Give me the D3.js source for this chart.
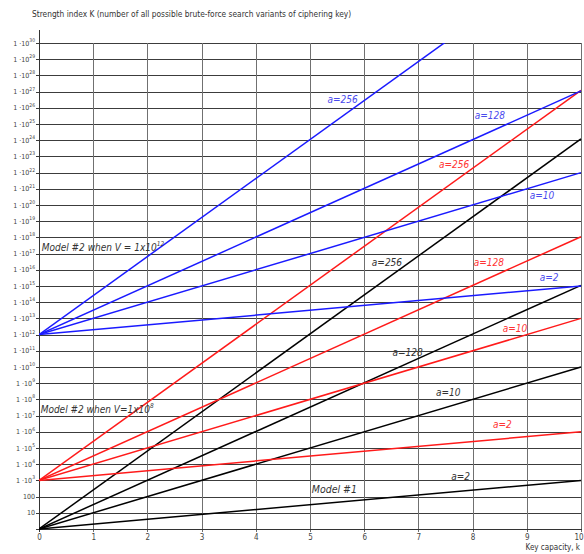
<!DOCTYPE html>
<html><head><meta charset="utf-8">
<script src="https://cdn.jsdelivr.net/npm/d3@7/dist/d3.min.js"></script>
<style>
body{margin:0;background:#fff;}
svg{display:block;}
text{font-family:"Liberation Sans Narrow","DejaVu Sans Condensed","Arial Narrow",sans-serif;}
</style></head><body>
<svg id="chart" width="584" height="554"></svg>
<script>
// ---------------- data ----------------
const keyCapacity = [0, 10];                       // k at both ends of every line
const xTicks = [0, 1, 2, 3, 4, 5, 6, 7, 8, 9, 10];
const yTickExponents = [0,1,2,3,4,5,6,7,8,9,10,11,12,13,14,15,16,17,18,19,20,21,22,23,24,25,26,27,28,29,30];
const seriesLabels = ["a=2", "a=10", "a=128", "a=256"];

// Model #1 (black): K at k=0 and k=10
const model1Start = [1, 1, 1, 1];
const model1End   = [1.0e3, 1.0e10, 1.1e15, 1.2e24];
// Model #2 when V=1x10^8 (red)
const model2aStart = [1e3, 1e3, 1e3, 1e3];
const model2aEnd   = [1.0e6, 1.0e13, 1.1e18, 1.2e27];
// Model #2 when V=1x10^12 (blue)
const model2bStart = [1e12, 1e12, 1e12, 1e12];
const model2bEnd   = [1.0e15, 1.0e22, 1.1e27, 1.2e36];

// label anchors in data units [k, log10 K]
const model1LabelAt  = [[7.78, 3.0], [7.55, 8.2], [6.8, 10.7], [6.42, 16.25]];
const model2aLabelAt = [[8.55, 6.25], [8.78, 12.15], [8.3, 16.25], [7.66, 22.3]];
const model2bLabelAt = [[9.41, 15.3], [9.28, 20.4], [8.32, 25.3], [5.6, 26.3]];

// ---------------- chart ----------------
const svg = d3.select("#chart");
const x = d3.scaleLinear().domain([0, 10]).range([39, 581]);
const y = d3.scaleLog().domain([1, 1e30]).range([529, 43]);

// horizontal grid
svg.append("g").selectAll("line").data(yTickExponents).join("line")
  .attr("x1", 36).attr("x2", x(10) + 1)
  .attr("y1", d => Math.round(y(Math.pow(10, d))) + 0.5)
  .attr("y2", d => Math.round(y(Math.pow(10, d))) + 0.5)
  .attr("stroke", "#3c3c3c").attr("stroke-width", 1);

// vertical grid
svg.append("g").selectAll("line").data(xTicks.filter(d => d > 0)).join("line")
  .attr("x1", d => Math.round(x(d)) + 0.5).attr("x2", d => Math.round(x(d)) + 0.5)
  .attr("y1", y(1e30)).attr("y2", y(1) + 3)
  .attr("stroke", "#707070").attr("stroke-width", 1);

// axes lines
svg.append("line").attr("x1", x(0) + 0.5).attr("x2", x(0) + 0.5)
  .attr("y1", 30).attr("y2", y(1) + 3).attr("stroke", "#333").attr("stroke-width", 1);
svg.append("line").attr("x1", x(0)).attr("x2", x(10) + 1)
  .attr("y1", Math.round(y(1)) + 0.5).attr("y2", Math.round(y(1)) + 0.5)
  .attr("stroke", "#333").attr("stroke-width", 1);

// y tick labels
const yl = svg.append("g").attr("fill", "#444").attr("font-size", 7);
yTickExponents.forEach(e => {
  if (e === 0) return;
  const t = yl.append("text").attr("x", 35).attr("y", y(Math.pow(10, e)) + 2.5)
    .attr("text-anchor", "end");
  if (e === 1) t.text("10");
  else if (e === 2) t.text("100");
  else {
    t.append("tspan").text("1 \u00B710");
    t.append("tspan").attr("font-size", 5).attr("dy", -3.5).text(String(e));
  }
});

// x tick labels
svg.append("g").selectAll("text").data(xTicks).join("text")
  .attr("x", d => d === 10 ? x(d) - 2 : x(d) + 0.5).attr("y", 540).attr("text-anchor", "middle")
  .attr("font-size", 8).attr("fill", "#444").text(d => d);

// titles
svg.append("text").attr("x", 32).attr("y", 17).attr("font-size", 8.3).attr("fill", "#333")
  .text("Strength index K (number of all possible brute-force search variants of ciphering key)");
svg.append("text").attr("x", 580).attr("y", 550).attr("text-anchor", "end")
  .attr("font-size", 8).attr("fill", "#333").text("Key capacity, k");

// lines
svg.append("defs").append("clipPath").attr("id", "plot")
  .append("rect").attr("x", x(0)).attr("y", y(1e30)).attr("width", x(10) - x(0) + 2).attr("height", y(1) - y(1e30) + 1);

const line = d3.line().x(d => x(d[0])).y(d => y(d[1]));
function drawModel(starts, ends, color) {
  const pts = starts.map((s, i) => [[keyCapacity[0], s], [keyCapacity[1], ends[i]]]);
  svg.append("g").attr("clip-path", "url(#plot)").selectAll("path").data(pts).join("path")
    .attr("d", line).attr("fill", "none").attr("stroke", color).attr("stroke-width", 1.5);
}
drawModel(model1Start, model1End, "#000000");
drawModel(model2aStart, model2aEnd, "#ff1a1a");
drawModel(model2bStart, model2bEnd, "#1a1aff");

// series labels
function drawLabels(at, color) {
  svg.append("g").selectAll("text").data(at).join("text")
    .attr("x", d => x(d[0])).attr("y", d => y(Math.pow(10, d[1])))
    .attr("text-anchor", "middle").attr("font-size", 10).attr("font-style", "italic")
    .attr("fill", color).text((d, i) => seriesLabels[i]);
}
drawLabels(model1LabelAt, "#333333");
drawLabels(model2aLabelAt, "#ff3333");
drawLabels(model2bLabelAt, "#4a4aee");

// model labels
svg.append("text").attr("x", x(5.45)).attr("y", y(Math.pow(10, 2.2)))
  .attr("text-anchor", "middle").attr("font-size", 10.5).attr("font-style", "italic")
  .attr("fill", "#333").text("Model #1");

function modelLabel(k, logK, main, sup) {
  const t = svg.append("text").attr("x", x(k)).attr("y", y(Math.pow(10, logK)))
    .attr("font-size", 10).attr("font-style", "italic").attr("fill", "#333");
  t.append("tspan").text(main);
  t.append("tspan").attr("font-size", 6.5).attr("dy", -5).text(sup);
}
modelLabel(0.05, 17.15, "Model #2 when V = 1x10", "12");
modelLabel(0.03, 7.15, "Model #2 when V=1x10", "8");
</script>
</body></html>
